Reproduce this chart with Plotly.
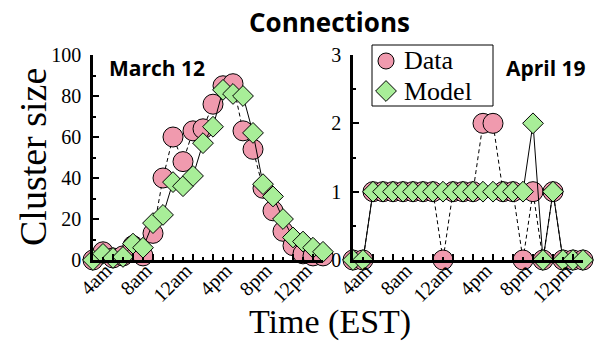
import plotly.graph_objects as go

W, H = 597, 346

hours = list(range(2, 26))  # hourly, 2am .. 1am next day

march_data = [0, 4, 1, 2, 7, 2, 13, 40, 60, 48, 63, 64, 76, 85, 86, 63, 54, 35, 24, 14, 7, 3, 2, 2]
march_model = [0, 3, 1, 1.5, 8, 6, 18, 22, 38, 36, 41, 57, 65, 83, 81, 80, 62, 37, 31, 20, 11, 9, 6, 4]

april_data = [0, 0, 1, 1, 1, 1, 1, 1, 1, 0, 1, 1, 1, 2, 2, 1, 1, 0, 1, 0, 1, 0, 0, 0]
april_model = [0, 0, 1, 1, 1, 1, 1, 1, 1, 1, 1, 1, 1, 1, 1, 1, 1, 1, 2, 0, 1, 0, 0, 0]

tick_vals = [2, 4, 6, 8, 10, 12, 14, 16, 18, 20, 22, 24]
tick_text = ["", "4am", "", "8am", "", "12am", "", "4pm", "", "8pm", "", "12pm"]

series_names = ["Data", "Model"]

PINK = "#F09AAE"
GREEN = "#A8EE98"
SERIF = "Liberation Serif, Times New Roman, serif"
SANS = "Open Sans, DejaVu Sans, sans-serif"
PAD = "\u00a0\u00a0"

fig = go.Figure()

CIRCLE = dict(symbol="circle", size=20, color=PINK, line=dict(color="black", width=1))
DIAMOND = dict(symbol="diamond", size=16, color=GREEN, line=dict(color="black", width=1))


def add_pair(data, model, xa, ya):
    fig.add_trace(go.Scatter(
        x=hours, y=data, mode="lines+markers", name=series_names[0], showlegend=False,
        xaxis=xa, yaxis=ya, cliponaxis=False,
        line=dict(color="black", width=1, dash="4px,3px"), marker=CIRCLE))
    fig.add_trace(go.Scatter(
        x=hours, y=model, mode="lines+markers", name=series_names[1], showlegend=False,
        xaxis=xa, yaxis=ya, cliponaxis=False,
        line=dict(color="black", width=1), marker=DIAMOND))


add_pair(march_data, march_model, "x", "y")
add_pair(april_data, april_model, "x2", "y2")

# legend-only symbols (no data points); the labels are set as text annotations
fig.add_trace(go.Scatter(x=[None], y=[None], mode="markers", name=" ",
                         marker=CIRCLE, legend="legend", xaxis="x2", yaxis="y2"))
fig.add_trace(go.Scatter(x=[None], y=[None], mode="markers", name=" ",
                         marker=DIAMOND, legend="legend2", xaxis="x2", yaxis="y2"))

ydom = [(H - 260) / H, (H - 55) / H]

xcommon = dict(
    range=[2, 25], tickmode="array", tickvals=tick_vals,
    ticktext=[t + PAD if t else t for t in tick_text],
    tickangle=-45, ticks="inside", ticklen=6, tickwidth=2, tickcolor="black",
    minor=dict(ticks="inside", ticklen=3, tickwidth=1.5, tickcolor="black",
               tickmode="linear", tick0=2, dtick=1),
    showline=True, linecolor="black", linewidth=2.5, showgrid=False,
    zeroline=False, automargin=False, ticklabelstandoff=-19,
    tickfont=dict(family=SERIF, size=20, color="black"),
)
ycommon = dict(
    ticks="inside", ticklen=6, tickwidth=2, tickcolor="black",
    showline=True, linecolor="black", linewidth=2.5, showgrid=False,
    zeroline=False, automargin=False, ticklabelstandoff=5,
    tickfont=dict(family=SERIF, size=20, color="black"),
)

leg = dict(xanchor="left", yanchor="middle", bgcolor="rgba(0,0,0,0)",
           borderwidth=0, font=dict(family=SERIF, size=8, color="black"),
           itemwidth=30)

fig.update_layout(
    width=W, height=H, autosize=False,
    margin=dict(l=0, r=0, t=0, b=0, pad=0, autoexpand=False),
    paper_bgcolor="white", plot_bgcolor="white",
    xaxis=dict(domain=[93 / W, 323 / W], anchor="y", **xcommon),
    yaxis=dict(domain=ydom, anchor="x", range=[0, 100], dtick=20,
               minor=dict(ticks="inside", ticklen=3, tickwidth=1.5,
                          tickcolor="black", dtick=10), **ycommon),
    xaxis2=dict(domain=[353 / W, 583 / W], anchor="y2", **xcommon),
    yaxis2=dict(domain=ydom, anchor="x2", range=[0, 3], dtick=1,
                minor=dict(ticks="inside", ticklen=3, tickwidth=1.5,
                           tickcolor="black", dtick=0.5), **ycommon),
    showlegend=True,
    legend=dict(x=366 / W, y=1 - 61 / H, **leg),
    legend2=dict(x=366 / W, y=1 - 91 / H, **leg),
    shapes=[dict(type="rect", xref="paper", yref="paper",
                 x0=372 / W, x1=493 / W, y0=1 - 106 / H, y1=1 - 45 / H,
                 line=dict(color="black", width=1), fillcolor="white", layer="above")],
    annotations=[
        dict(text=series_names[0], x=402 / W, y=1 - 61 / H, xref="paper", yref="paper",
             xanchor="left", yanchor="middle", showarrow=False,
             font=dict(family=SERIF, size=26, color="black")),
        dict(text=series_names[1], x=402 / W, y=1 - 91 / H, xref="paper", yref="paper",
             xanchor="left", yanchor="middle", showarrow=False,
             font=dict(family=SERIF, size=26, color="black")),
        dict(text="<b>Connections</b>", x=330 / W, y=1 - 22 / H, xref="paper", yref="paper",
             xanchor="center", yanchor="middle", showarrow=False,
             font=dict(family=SANS, size=26, color="black")),
        dict(text="<b>March 12</b>", x=107 / W, y=1 - 68 / H, xref="paper", yref="paper",
             xanchor="left", yanchor="middle", showarrow=False,
             font=dict(family=SANS, size=21, color="black")),
        dict(text="<b>April 19</b>", x=588 / W, y=1 - 68 / H, xref="paper", yref="paper",
             xanchor="right", yanchor="middle", showarrow=False,
             font=dict(family=SANS, size=21, color="black")),
        dict(text="Cluster size", x=33 / W, y=1 - 157 / H, xref="paper", yref="paper",
             xanchor="center", yanchor="middle", textangle=-90, showarrow=False,
             font=dict(family=SERIF, size=38, color="black")),
        dict(text="Time (EST)", x=330 / W, y=1 - 322 / H, xref="paper", yref="paper",
             xanchor="center", yanchor="middle", showarrow=False,
             font=dict(family=SERIF, size=34, color="black")),
    ],
)

fig.write_html("out.html", config={"responsive": False, "displayModeBar": False},
               post_script="document.body.style.margin='0';document.body.style.padding='0';")
